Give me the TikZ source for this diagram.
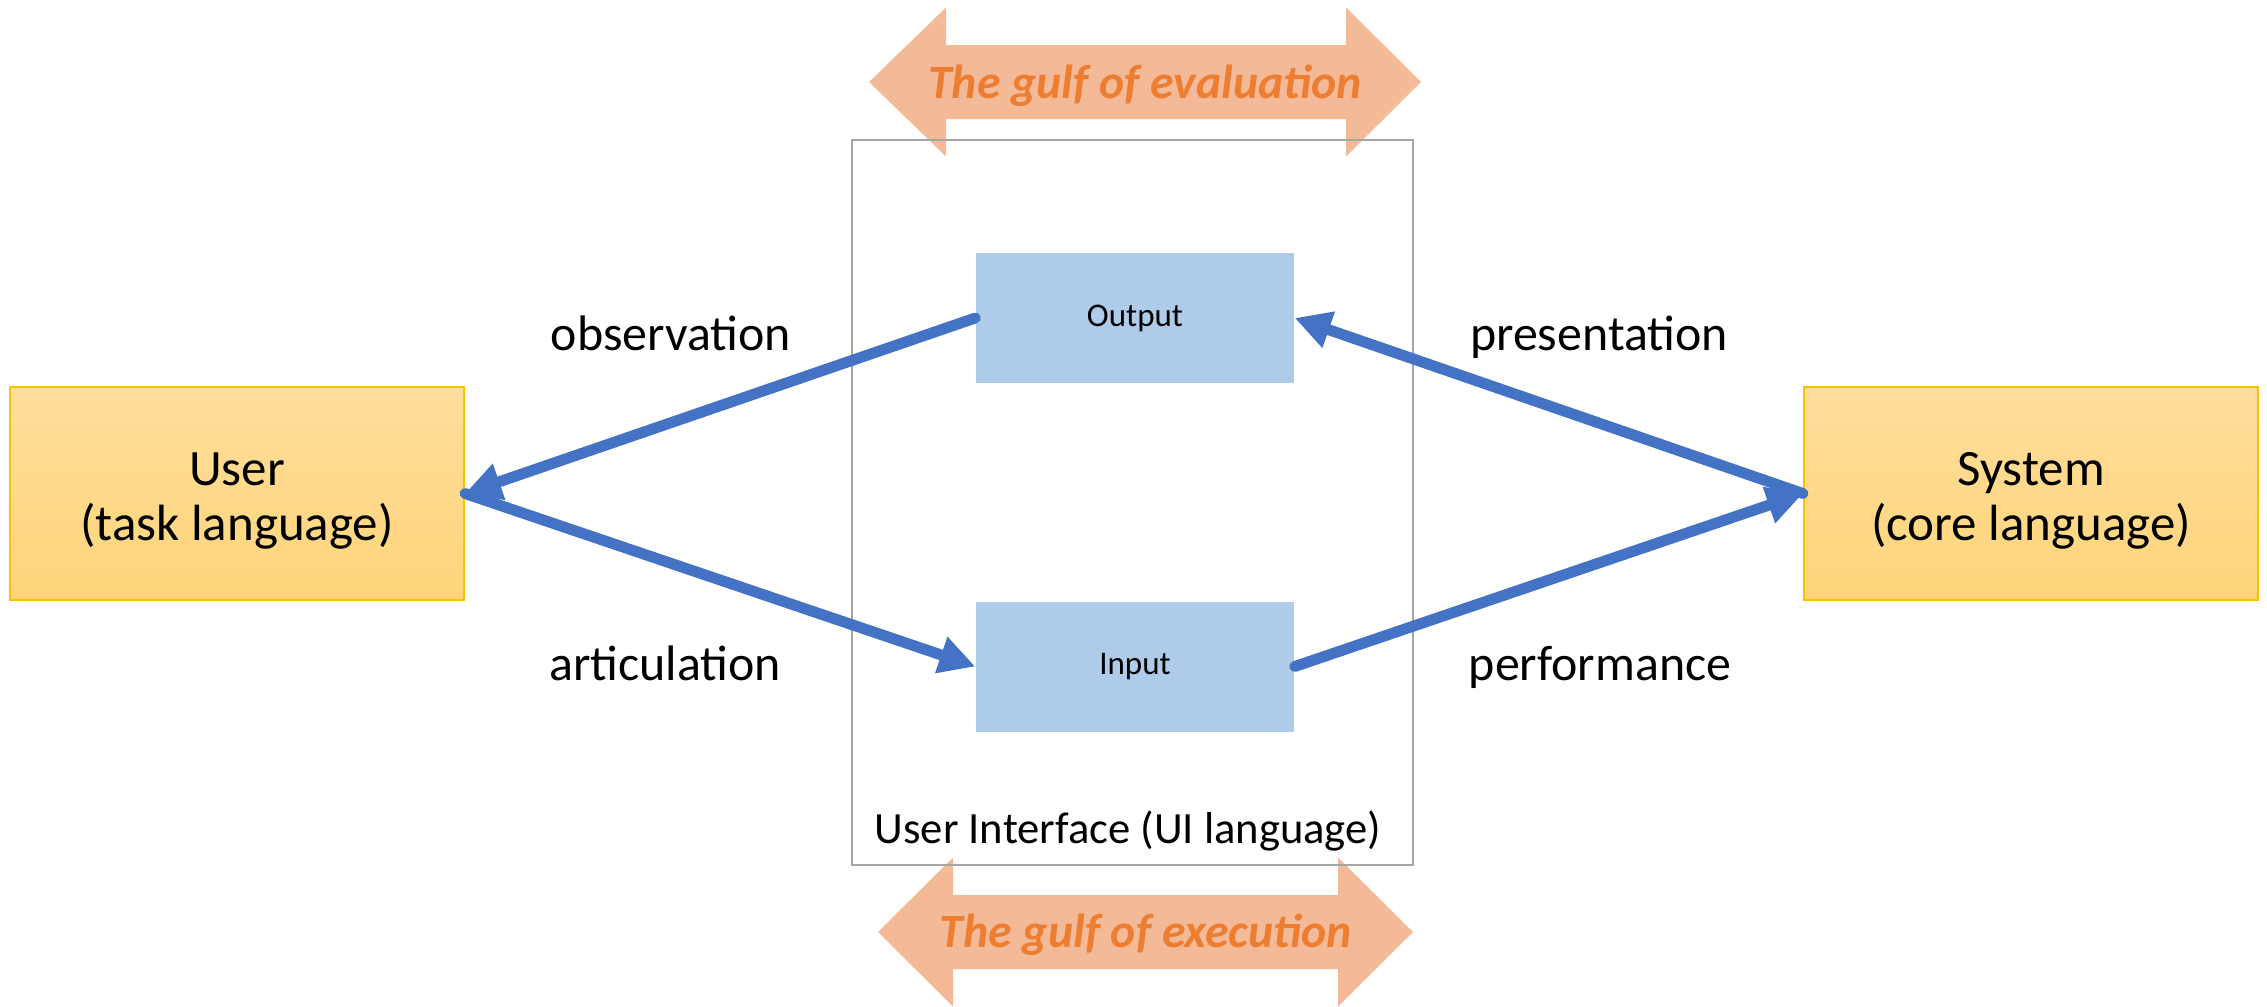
\documentclass[tikz,border=0pt]{standalone}
\usepackage{fontspec}
\setmainfont{Carlito}
\usetikzlibrary{arrows.meta,positioning}

\definecolor{boxtop}{RGB}{255,222,156}
\definecolor{boxbot}{RGB}{255,213,122}
\definecolor{boxline}{RGB}{255,192,0}
\definecolor{partblue}{RGB}{174,203,234}
\definecolor{linkblue}{RGB}{68,114,196}
\definecolor{gulffill}{RGB}{244,185,150}
\definecolor{gulftext}{RGB}{237,125,49}

\begin{document}
\begin{tikzpicture}[agent/.style={rectangle, draw=boxline, line width=0.6pt, top color=boxtop, bottom color=boxbot, minimum width=4.54cm, minimum height=2.13cm, align=center, font=\fontsize{14.5}{15.8}\selectfont},
  part/.style={rectangle, fill=partblue, minimum width=3.18cm, minimum height=1.30cm, font=\fontsize{9.4}{11}\selectfont},
  link/.style={draw=linkblue, line width=3.1pt, line cap=round, -{Triangle[length=0.36cm, width=0.36cm]}},
  lbl/.style={anchor=base, font=\fontsize{14.2}{17}\selectfont},
  gulf/.style={fill=gulffill},
  gulflbl/.style={anchor=base, text=gulftext, font=\fontsize{13.6}{16}\selectfont\bfseries\itshape}]
    \useasboundingbox (0,0) rectangle (22.67,10.06);

    % the two gulfs
    \fill[gulf] (8.69,9.24) -- (9.46,9.985) -- (9.46,9.61) -- (13.46,9.61) -- (13.46,9.985) -- (14.21,9.24)
      -- (13.46,8.495) -- (13.46,8.87) -- (9.46,8.87) -- (9.46,8.495) -- cycle;
    \node[gulflbl] (evaluation) at (11.45,9.08) {The gulf of evaluation};
    \fill[gulf] (8.78,0.74) -- (9.53,1.485) -- (9.53,1.11) -- (13.38,1.11) -- (13.38,1.485) -- (14.13,0.74)
      -- (13.38,-0.005) -- (13.38,0.37) -- (9.53,0.37) -- (9.53,-0.005) -- cycle;
    \node[gulflbl] (execution) at (11.46,0.59) {The gulf of execution};

    \node[rectangle, draw=black!35, line width=0.8pt, minimum width=5.61cm, minimum height=7.25cm] (ui) at (11.325,5.035) {};
    \node[anchor=base, font=\fontsize{12.7}{15}\selectfont] (uilabel) at (11.28,1.63) {User Interface (UI language)};

    \node[agent] (user) at (2.37,5.125) {\rule{0pt}{13.5pt}User\\(task language)};
    \node[agent] (system) at (20.31,5.125) {\rule{0pt}{13.5pt}System\\(core language)};
    \node[part] (output) at (11.35,6.88) {Output};
    \node[part] (input) at (11.35,3.395) {Input};

    \draw[link] (output.west) -- (user.east);
    \draw[link] (user.east) -- (input.west);
    \draw[link] (input.east) -- (system.west);
    \draw[link] (system.west) -- (output.east);

    \node[lbl] (observation) at (6.71,6.56) {observation};
    \node[lbl] (articulation) at (6.65,3.26) {articulation};
    \node[lbl] (presentation) at (15.99,6.56) {presentation};
    \node[lbl] (performance) at (16.00,3.26) {performance};

  \end{tikzpicture}
\end{document}
